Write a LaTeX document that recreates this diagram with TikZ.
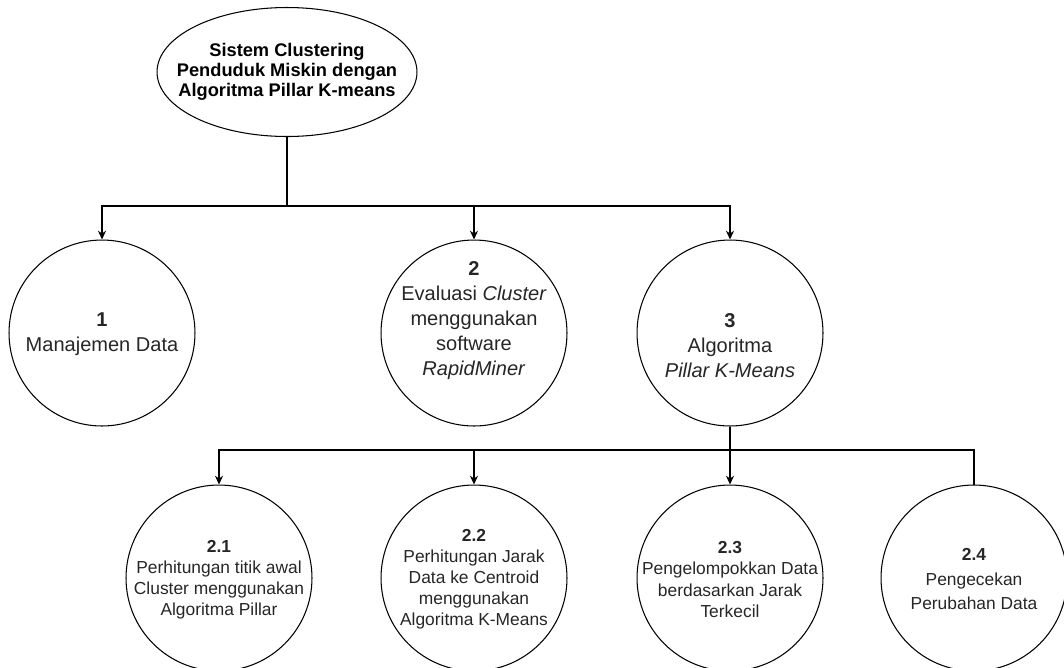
\documentclass[tikz,border=0pt]{standalone}
\usepackage{fontspec}
\setmainfont{Liberation Sans}
\usetikzlibrary{arrows.meta, shapes.geometric, positioning, calc}

\tikzset{
    proc/.style={circle, draw, line width=0.6pt, minimum size=3.72cm, inner sep=0pt},
    rootell/.style={ellipse, draw, line width=0.6pt, minimum width=5.2cm, minimum height=2.58cm, inner sep=0pt},
    bigtxt/.style={align=center, text=black!85, font=\fontsize{11.4}{14.2}\selectfont},
    smalltxt/.style={align=center, text=black!85, font=\fontsize{9.9}{12}\selectfont},
    roottxt/.style={align=center, font=\bfseries\fontsize{10.4}{11.4}\selectfont},
    conn/.style={line width=0.6pt},
    arr/.style={line width=0.6pt, -{Stealth[length=5pt, width=4.6pt]}},
}

\begin{document}
\begin{tikzpicture}[x=0.02cm, y=-0.02cm]

    \useasboundingbox (0,0) rectangle (1064,667);

    % Sistem utama
    \node[rootell] (root) at (287,72) {};
    \node[roottxt] at (root) {Sistem Clustering\\Penduduk Miskin dengan\\Algoritma Pillar K-means};

    % Proses tingkat 1
    \node[proc] (p1) at (102,333) {};
    \node[bigtxt] at (102,334) {\textbf{1}\\Manajemen Data};
    \node[proc] (p2) at (474,333) {};
    \node[bigtxt] at (474,320.5) {\textbf{2}\\Evaluasi \textit{Cluster}\\menggunakan\\software\\\textit{RapidMiner}};
    \node[proc] (p3) at (730,333) {};
    \node[bigtxt] at (730,346) {\textbf{3}\\Algoritma\\\textit{Pillar K-Means}};

    % Proses tingkat 2
    \node[proc] (p21) at (219,578) {};
    \node[smalltxt] at (219,579.5) {\textbf{2.1}\\Perhitungan titik awal\\Cluster menggunakan\\Algoritma Pillar};
    \node[proc] (p22) at (474,578) {};
    \node[smalltxt] at (474,579.5) {\textbf{2.2}\\Perhitungan Jarak\\Data ke Centroid\\menggunakan\\Algoritma K-Means};
    \node[proc] (p23) at (730,578) {};
    \node[smalltxt] at (730,579.5) {\textbf{2.3}\\Pengelompokkan Data\\berdasarkan Jarak\\Terkecil};
    \node[proc] (p24) at (974,578) {};
    \node[smalltxt, font=\fontsize{9.9}{13.7}\selectfont] at (974,579) {\textbf{2.4}\\Pengecekan\\Perubahan Data};

    % Garis penghubung
    \coordinate (bus1) at (287,206);
    \draw[conn] (root.south) -- (bus1);
    \foreach \n in {p1,p2,p3}
        \draw[arr] (bus1) -| (\n.north);

    \coordinate (bus2) at (730,450);
    \draw[conn] (p3.south) -- (bus2);
    \foreach \n in {p21,p22,p23}
        \draw[arr] (bus2) -| (\n.north);
    \draw[conn] (bus2) -| (p24.north);

\end{tikzpicture}
\end{document}
